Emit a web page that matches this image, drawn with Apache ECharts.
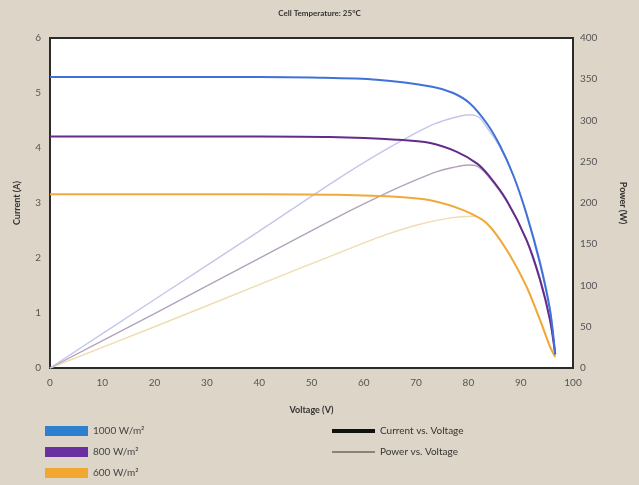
<!DOCTYPE html>
<html>
<head>
<meta charset="utf-8">
<script src="https://cdn.jsdelivr.net/npm/echarts@6/dist/echarts.min.js"></script>
<style>
  html, body { margin: 0; padding: 0; background: #ddd6c8; }
  #chart { width: 639px; height: 485px; }
</style>
</head>
<body>
<div id="chart"></div>
<script>
// ---- Data ----
const titleText = 'Cell Temperature: 25°C';
const irradianceNames = ['1000 W/m²', '800 W/m²', '600 W/m²'];
const styleNames = ['Current vs. Voltage', 'Power vs. Voltage'];

// Current (A) vs Voltage (V)
const blueCurV = [0, 20, 40, 50, 62.5, 73.3, 77.1, 80.3, 83.5, 86.0, 88.6, 91.1, 93.7, 95.6, 96.6];
const blueCurI = [5.29, 5.29, 5.29, 5.28, 5.24, 5.11, 5.0, 4.81, 4.45, 4.05, 3.5, 2.8, 1.9, 1.05, 0.25];
const purpleCurV = [0, 20, 40, 53.5, 66.3, 72.7, 77.8, 81.6, 83.8, 87.3, 91.1, 93.7, 95.6, 96.6];
const purpleCurI = [4.21, 4.21, 4.21, 4.2, 4.15, 4.09, 3.93, 3.72, 3.51, 3.05, 2.33, 1.6, 0.87, 0.25];
const orangeCurV = [0, 20, 40, 55, 66.9, 72.7, 79.0, 83.5, 87.3, 91.1, 93.7, 95.6, 96.6];
const orangeCurI = [3.16, 3.16, 3.16, 3.15, 3.11, 3.05, 2.87, 2.63, 2.15, 1.48, 0.87, 0.39, 0.2];

// Power (W) vs Voltage (V)
const bluePowV = [0, 20, 40, 55, 64, 70, 74, 77.5, 80.3, 82, 83.5, 86.2, 88.8, 91.3, 93.9, 95.7, 96.6];
const bluePowP = [0, 83, 166, 229, 264, 285, 297, 304, 307, 304, 292, 266, 230, 184, 125, 69, 16];
const purplePowV = [0, 20, 40, 55, 65, 70, 74, 77, 80, 81.5, 83.7, 87.5, 91.3, 93.9, 95.7, 96.6];
const purplePowP = [0, 66, 133, 183, 214, 228, 238, 243, 246, 245, 233, 200, 153, 105, 56, 16];
const orangePowV = [0, 20, 40, 55, 64, 70, 74, 78, 81, 82.5, 84, 87.5, 91.3, 93.9, 95.7, 96.6];
const orangePowP = [0, 50, 101, 139, 161, 173, 179, 183, 184, 181, 172, 141, 97, 56, 25, 13];

// ---- Build chart ----
const zip = (xs, ys) => xs.map((x, i) => [x, ys[i]]);
const curColors = ['#3f72d9', '#652b8c', '#f1a93a'];
const powColors = ['#c3c6ea', '#b2a2bc', '#f0dcb2'];
const legendColors = ['#2f7fd0', '#6a30a0', '#f0a830'];
const curData = [zip(blueCurV, blueCurI), zip(purpleCurV, purpleCurI), zip(orangeCurV, orangeCurI)];
const powData = [zip(bluePowV, bluePowP), zip(purplePowV, purplePowP), zip(orangePowV, orangePowP)];

const font = 'Lato';
const series = [];
for (let i = 2; i >= 0; i--) {
  series.push({
    name: irradianceNames[i] + ' power', type: 'line', yAxisIndex: 1,
    data: powData[i], smooth: 0.3, showSymbol: false, silent: true,
    lineStyle: { color: powColors[i], width: 1.4 },
    itemStyle: { color: powColors[i] }, z: 2
  });
}
for (let i = 2; i >= 0; i--) {
  series.push({
    name: irradianceNames[i], type: 'line', yAxisIndex: 0,
    data: curData[i], smooth: 0.3, showSymbol: false, silent: true,
    lineStyle: { color: curColors[i], width: 2 },
    itemStyle: { color: legendColors[i] }, z: 3
  });
}
series.push({ name: styleNames[0], type: 'line', data: [], itemStyle: { color: '#111' }, lineStyle: { color: '#111' } });
series.push({ name: styleNames[1], type: 'line', data: [], itemStyle: { color: '#333' }, lineStyle: { color: '#333' } });

const axisLabel = { color: '#555', fontSize: 10, fontFamily: font };
const nameStyle = { color: '#333', fontSize: 9, fontWeight: 'bold', fontFamily: font };

const option = {
  backgroundColor: '#ddd6c8',
  animation: false,
  title: {
    text: titleText, left: 'center', top: 4,
    textStyle: { color: '#333', fontSize: 8, fontWeight: 'bold', fontFamily: font }
  },
  grid: {
    left: 50, right: 66, top: 38, bottom: 117,
    show: true, backgroundColor: '#ffffff', borderColor: '#2b2b2b', borderWidth: 2
  },
  legend: [
    {
      data: irradianceNames, orient: 'vertical', left: 40, top: 421,
      icon: 'rect', itemWidth: 43, itemHeight: 10, itemGap: 11, selectedMode: false,
      textStyle: { color: '#444', fontSize: 10, fontFamily: font }
    },
    {
      data: [styleNames[0]], left: 327, top: 421,
      icon: 'rect', itemWidth: 43, itemHeight: 4, selectedMode: false,
      textStyle: { color: '#333', fontSize: 10, fontFamily: font }
    },
    {
      data: [styleNames[1]], left: 327, top: 442,
      icon: 'rect', itemWidth: 43, itemHeight: 1.2, selectedMode: false,
      textStyle: { color: '#333', fontSize: 10, fontFamily: font }
    }
  ],
  xAxis: {
    type: 'value', min: 0, max: 100, interval: 10,
    name: 'Voltage (V)', nameLocation: 'middle', nameGap: 38, nameTextStyle: nameStyle,
    axisLine: { show: false }, axisTick: { show: false }, splitLine: { show: false },
    axisLabel: Object.assign({ margin: 10 }, axisLabel)
  },
  yAxis: [
    {
      type: 'value', min: 0, max: 6, interval: 1,
      name: 'Current (A)', nameLocation: 'middle', nameGap: 28, nameRotate: 90, nameTextStyle: nameStyle,
      axisLine: { show: false }, axisTick: { show: false }, splitLine: { show: false },
      axisLabel: Object.assign({ margin: 9 }, axisLabel)
    },
    {
      type: 'value', min: 0, max: 400, interval: 50, position: 'right',
      name: 'Power (W)', nameLocation: 'middle', nameGap: 45, nameRotate: -90, nameTextStyle: nameStyle,
      axisLine: { show: false }, axisTick: { show: false }, splitLine: { show: false },
      axisLabel: Object.assign({ margin: 7 }, axisLabel)
    }
  ],
  series: series
};

const chart = echarts.init(document.getElementById('chart'), null, { renderer: 'canvas' });
chart.setOption(option);
</script>
</body>
</html>
